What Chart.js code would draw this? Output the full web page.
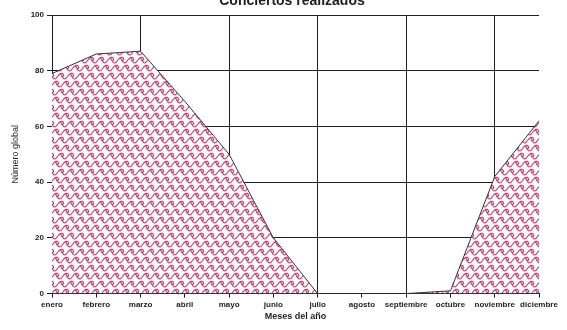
<!DOCTYPE html>
<html><head><meta charset="utf-8">
<script src="https://cdn.jsdelivr.net/npm/chart.js@4/dist/chart.umd.min.js"></script>
<style>
html,body{margin:0;padding:0;background:#fff;overflow:hidden}
#wrap{position:absolute;left:0;top:0;width:567px;height:330px}
</style>
</head><body>
<div id="wrap"><canvas id="c" width="567" height="330"></canvas></div>
<script>
const meses = ['enero','febrero','marzo','abril','mayo','junio','julio','agosto','septiembre','octubre','noviembre','diciembre'];
const conciertos = [79, 86, 87, 69, 50, 20, 0, 0, 0, 1, 42, 62];
const yMin = 0, yMax = 100, yStep = 20;
const titulo = 'Conciertos realizados';

// repeating breaking-wave motif used as the area fill
function wavePattern(ctx) {
  const W = 10, H = 16;
  const t = document.createElement('canvas');
  t.width = W; t.height = H;
  const g = t.getContext('2d');
  g.fillStyle = '#fff';
  g.fillRect(0, 0, W, H);
  g.strokeStyle = '#d4386e';
  g.lineWidth = 1.1;
  const motif = (ox, oy) => {
    g.beginPath();
    g.moveTo(ox, oy + 7);
    g.bezierCurveTo(ox + 2, oy + 6.5, ox + 3, oy + 2.5, ox + 5.5, oy + 1.5);
    g.bezierCurveTo(ox + 8.5, oy + 0.8, ox + 9.5, oy + 4, ox + 7.8, oy + 4.6);
    g.bezierCurveTo(ox + 6.6, oy + 5, ox + 6.2, oy + 3.8, ox + 7, oy + 3.4);
    g.moveTo(ox + 5.5, oy + 1.5);
    g.bezierCurveTo(ox + 6.5, oy + 4.5, ox + 8, oy + 7, ox + 10, oy + 7);
    g.stroke();
  };
  for (const [ox, oy] of [[0, 0], [5, 8]]) {
    for (const dx of [-W, 0, W]) for (const dy of [-H, 0, H]) motif(ox + dx, oy + dy);
  }
  return ctx.createPattern(t, 'repeat');
}

const ink = '#1e1e1e';
const fam = 'Liberation Sans, Arial, sans-serif';
const canvas = document.getElementById('c');
const ctx = canvas.getContext('2d');

// chart title, drawn above the plot and partly clipped by the top edge
const titlePlugin = {
  id: 'topTitle',
  afterDraw(chart) {
    const c = chart.ctx;
    c.save();
    c.fillStyle = ink;
    c.font = 'bold 14px ' + fam;
    c.textAlign = 'center';
    c.textBaseline = 'alphabetic';
    c.fillText(titulo, 292, 5);
    c.restore();
  }
};

new Chart(ctx, {
  type: 'line',
  data: {
    labels: meses,
    datasets: [{
      data: conciertos,
      borderColor: '#333',
      borderWidth: 1,
      backgroundColor: wavePattern(ctx),
      fill: 'origin',
      pointRadius: 0,
      tension: 0
    }]
  },
  options: {
    responsive: false,
    animation: false,
    devicePixelRatio: 1,
    layout: { padding: { left: 0, right: 28, top: 15, bottom: 8 } },
    plugins: {
      legend: { display: false },
      tooltip: { enabled: false },
      title: { display: false }
    },
    scales: {
      x: {
        offset: false,
        grid: {
          color: c => (c.index % 2 === 0 ? ink : 'rgba(0,0,0,0)'),
          tickColor: ink,
          tickLength: 4,
          lineWidth: 1
        },
        border: { color: ink, width: 1 },
        ticks: {
          color: ink,
          autoSkip: false,
          maxRotation: 0,
          padding: 2,
          font: { family: fam, size: 8, weight: 'bold' }
        },
        title: {
          display: true,
          text: 'Meses del año',
          color: ink,
          padding: { top: 0, bottom: 0 },
          font: { family: fam, size: 9, weight: 'bold' }
        }
      },
      y: {
        min: yMin,
        max: yMax,
        grid: { color: ink, tickColor: ink, tickLength: 5, lineWidth: 1 },
        border: { color: ink, width: 1 },
        ticks: {
          stepSize: yStep,
          color: ink,
          padding: 3,
          font: { family: fam, size: 8, weight: 'bold' }
        },
        title: {
          display: true,
          text: 'Número global',
          color: ink,
          padding: { top: 10, bottom: 2 },
          font: { family: fam, size: 9 }
        },
        afterFit: s => { s.width = 52; }
      }
    }
  },
  plugins: [titlePlugin]
});
</script>
</body></html>
